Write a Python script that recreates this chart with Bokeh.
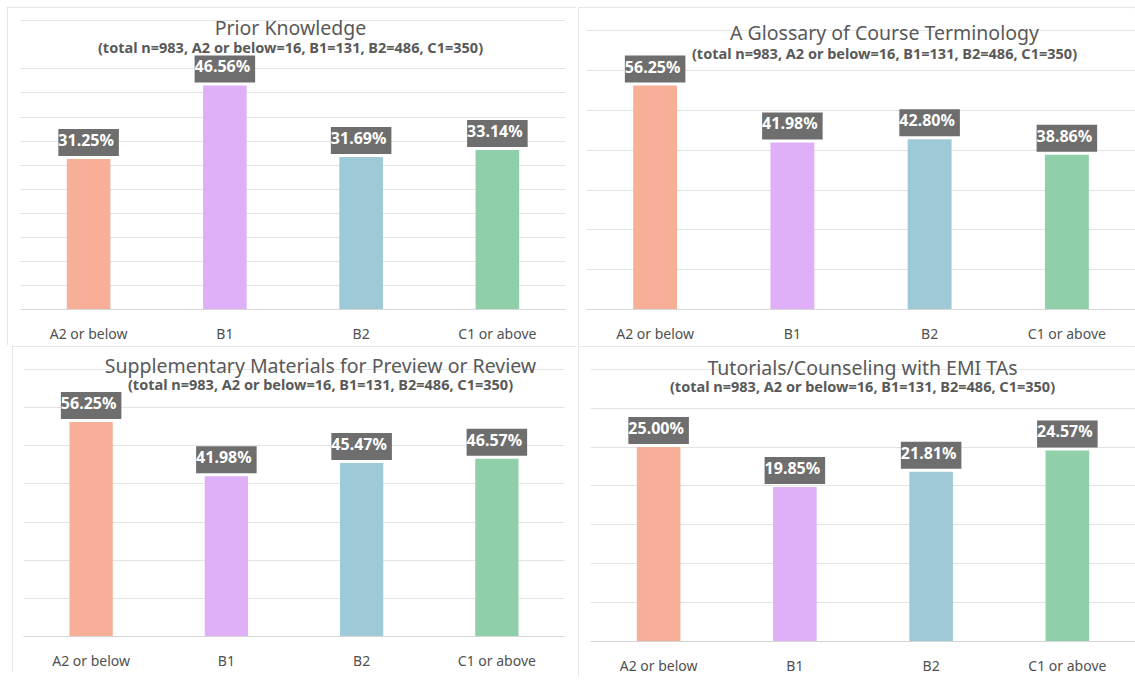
from bokeh.plotting import figure
from bokeh.models import ColumnDataSource, Label, Range1d, FixedTicker, Grid
from bokeh.layouts import column, row
from bokeh.embed import file_html
from bokeh.resources import INLINE

# ---- data -------------------------------------------------------------
levels = ["A2 or below", "B1", "B2", "C1 or above"]
level_colors = ["#F8AF98", "#DFB0F8", "#9ECAD8", "#8FCFA9"]
sample_note = "(total n=983, A2 or below=16, B1=131, B2=486, C1=350)"

prior_knowledge = [31.25, 46.56, 31.69, 33.14]
glossary = [56.25, 41.98, 42.80, 38.86]
supplementary = [56.25, 41.98, 45.47, 46.57]
tutorials = [25.00, 19.85, 21.81, 24.57]

titles = [
    "Prior Knowledge",
    "A Glossary of Course Terminology",
    "Supplementary Materials for Preview or Review",
    "Tutorials/Counseling with EMI TAs",
]

# ---- styling ----------------------------------------------------------
FONT = "Noto Sans"
TEXT_COLOR = "#595959"
GRID_COLOR = "#e3e3e3"
BOX_COLOR = "#6e6e6e"
PANEL_BORDER = "#dedede"


def make_panel(vals, title, grid_top, grid_step, y_end, size, margin, borders,
               title_pos, note_pos):
    width, height = size
    left, right, top, bottom = borders
    p = figure(
        x_range=levels,
        y_range=Range1d(0, y_end),
        width=width,
        height=height,
        margin=margin,
        min_border_left=left,
        min_border_right=right,
        min_border_top=top,
        min_border_bottom=bottom,
        y_axis_location=None,
        toolbar_location=None,
        output_backend="svg",
        background_fill_color="white",
        border_fill_color="white",
        outline_line_color=None,
        styles={"outline": f"1px solid {PANEL_BORDER}", "outline-offset": "-1px"},
    )

    # horizontal gridlines, only up to the top tick
    grid = Grid(dimension=1, ticker=FixedTicker(ticks=list(range(0, grid_top + 1, grid_step))),
                grid_line_color=GRID_COLOR, grid_line_width=1)
    p.add_layout(grid)
    p.xgrid.visible = False

    src = ColumnDataSource(dict(level=levels, val=vals, color=level_colors))
    p.vbar(x="level", top="val", bottom=0, width=0.32, fill_color="color",
           line_color=None, source=src)

    # value callouts above each bar (factor i sits at synthetic x = i + 0.5)
    for i, v in enumerate(vals):
        p.add_layout(Label(
            x=i + 0.5, y=v, text=f"{v:.2f}%",
            y_offset=3, text_align="center", text_baseline="bottom",
            text_font=FONT, text_font_size="16px", text_font_style="bold",
            text_color="white",
            background_fill_color=BOX_COLOR,
            padding=(0, 5, 0, 5),
        ))

    ax = p.xaxis[0]
    ax.axis_line_color = "#d6d6d6"
    ax.major_tick_line_color = None
    ax.minor_tick_line_color = None
    ax.major_label_standoff = 8
    ax.major_label_text_font = FONT
    ax.major_label_text_font_size = "14px"
    ax.major_label_text_color = "#505050"

    # title and sample-size note, placed in pixels from the frame's lower-left corner
    p.add_layout(Label(x=title_pos[0], y=title_pos[1], x_units="screen", y_units="screen",
                       text=title, text_align="center", text_baseline="alphabetic",
                       text_font=FONT, text_font_size="19.5px",
                       text_color=TEXT_COLOR))
    p.add_layout(Label(x=note_pos[0], y=note_pos[1], x_units="screen", y_units="screen",
                       text=sample_note, text_align="center", text_baseline="alphabetic",
                       text_font=FONT, text_font_size="14.5px", text_font_style="bold",
                       text_color=TEXT_COLOR))
    return p


p1 = make_panel(prior_knowledge, titles[0], 50, 5, 62.55,
                (569, 338), (7, 0, 0, 7), (13, 11, 1, 33),
                (270, 282), (270, 263))
p2 = make_panel(glossary, titles[1], 60, 10, 75.62,
                (557, 338), (7, 0, 0, 2), (8, 0, 1, 33),
                (298, 277), (298, 257))
p3 = make_panel(supplementary, titles[2], 60, 10, 75.75,
                (564, 326), (1, 0, 0, 12), (11, 12, 1, 33),
                (297, 271), (297, 253))
p4 = make_panel(tutorials, titles[3], 30, 5, 37.8,
                (557, 331), (1, 0, 0, 2), (12, 0, 1, 33),
                (272, 274), (272, 256))

layout = column(row(p1, p2, spacing=0), row(p3, p4, spacing=0), spacing=0)

with open("out.html", "w") as f:
    f.write(file_html(layout, INLINE))
